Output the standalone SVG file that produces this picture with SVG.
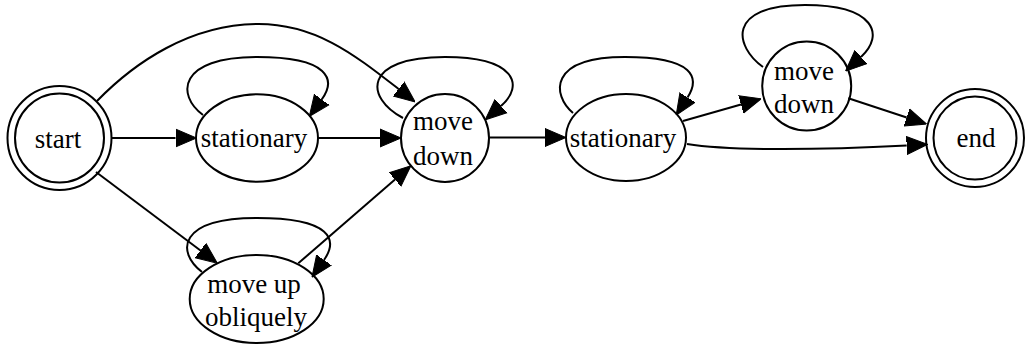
<svg xmlns="http://www.w3.org/2000/svg" width="1025" height="346" viewBox="0 0 1025 346">
<style>
.n{fill:none;stroke:#000;stroke-width:2}
.e{fill:none;stroke:#000;stroke-width:2;marker-end:url(#ah)}
.t{font-family:'Liberation Serif','DejaVu Serif','Times New Roman',serif;font-size:27px;fill:#000;text-anchor:middle}
</style>
<defs>
<marker id="ah" viewBox="0 -10 21 20" refX="0" refY="0" markerWidth="21" markerHeight="20" markerUnits="userSpaceOnUse" orient="auto">
<path d="M0,-9 L21,0 L0,9 Z" fill="#000" stroke="#000" stroke-width="1"/>
</marker>
</defs>
<g id="edges">
<path class="e" d="M112,138 L175.5,138"/>
<path class="e" d="M97,101 C135,62 190,25 256,24 C315,23 355,55 398.6,89"/>
<path class="e" d="M203,115 C176,95 178,57 257,57 C330,57 336,80 321.7,99.5"/>
<path class="e" d="M318,138 L380,138"/>
<path class="e" d="M96,172 L200.5,250.5"/>
<path class="e" d="M202,272 C176,252 178,218 257,218 C332,218 338,240 324,260"/>
<path class="e" d="M298.3,263.3 L395,179.5"/>
<path class="e" d="M403,118 C365,98 362,57 445,57 C515,57 525,85 501,106"/>
<path class="e" d="M489.3,137.5 L545,137.5"/>
<path class="e" d="M573,113 C552,95 548,57 625,57 C695,57 700,78 687.5,97.5"/>
<path class="e" d="M683,121 L741,104.5"/>
<path class="e" d="M687,144 C730,151 820,150 906.7,145.5"/>
<path class="e" d="M763,67 C735,47 725,5 805,5 C875,5 885,35 861,57"/>
<path class="e" d="M848.3,98.3 L906.7,117.5"/>
</g>
<g id="start">
<circle class="n" cx="59.5" cy="138" r="52"/>
<circle class="n" cx="59.5" cy="138" r="44.5"/>
<text class="t" x="58" y="147.5">start</text>
</g>
<g id="stationary1">
<ellipse class="n" cx="257" cy="138" rx="61" ry="43.7"/>
<text class="t" x="254" y="146.7">stationary</text>
</g>
<g id="movedown1">
<circle class="n" cx="445" cy="138" r="44"/>
<text class="t" x="443" y="130">move</text>
<text class="t" x="443" y="165">down</text>
</g>
<g id="moveup">
<ellipse class="n" cx="256.7" cy="299" rx="67" ry="44"/>
<text class="t" x="254" y="292.7">move up</text>
<text class="t" x="256" y="326">obliquely</text>
</g>
<g id="stationary2">
<ellipse class="n" cx="626" cy="137.5" rx="60" ry="43.5"/>
<text class="t" x="623" y="146.7">stationary</text>
</g>
<g id="movedown2">
<circle class="n" cx="806.7" cy="86" r="44.5"/>
<text class="t" x="804" y="80">move</text>
<text class="t" x="804" y="113">down</text>
</g>
<g id="end">
<circle class="n" cx="975" cy="138" r="49"/>
<circle class="n" cx="975" cy="138" r="41.5"/>
<text class="t" x="976" y="146.7">end</text>
</g>
</svg>
